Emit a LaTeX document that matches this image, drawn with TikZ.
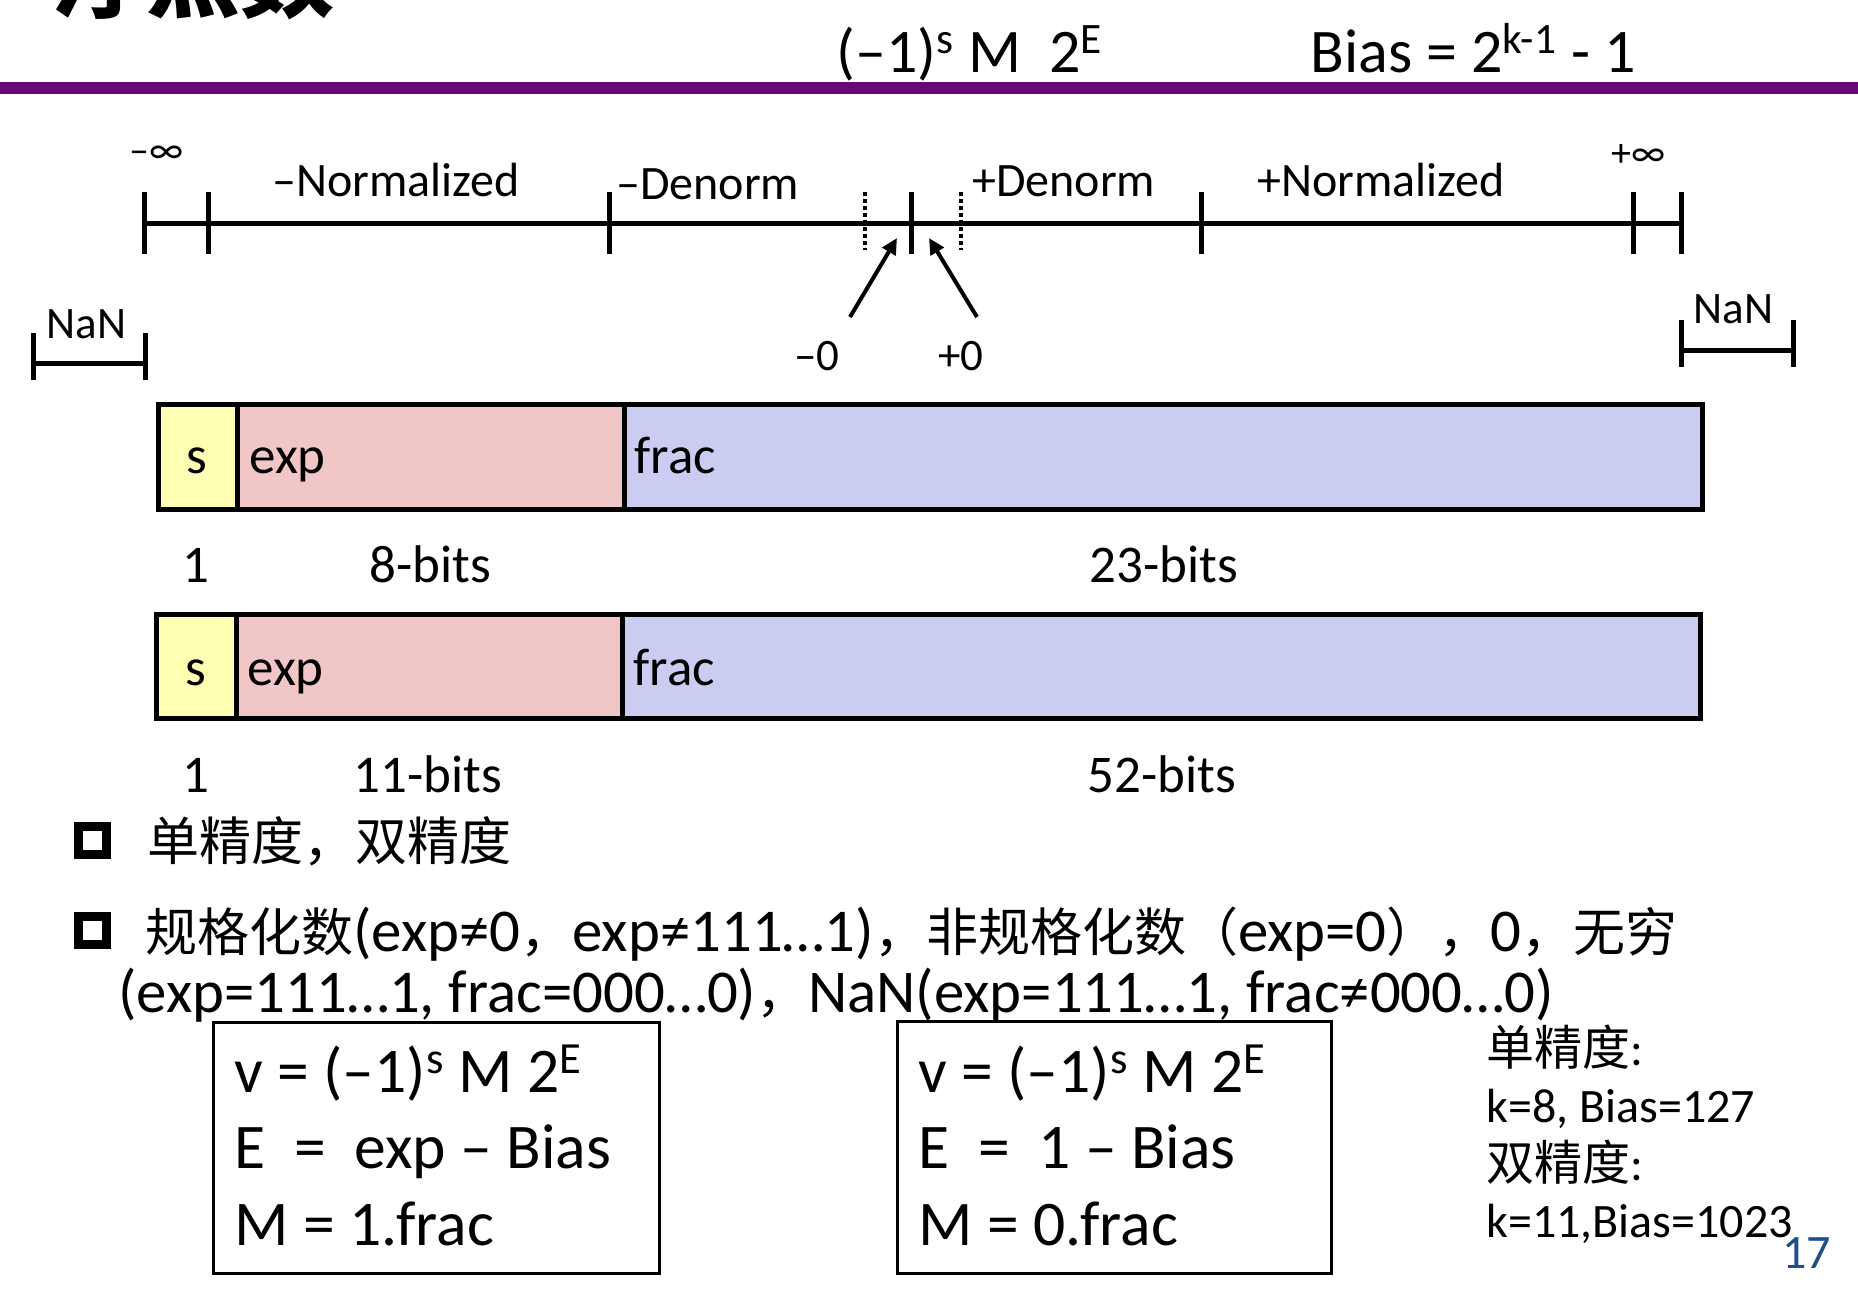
\documentclass[tikz,border=0pt]{standalone}
\usepackage{fontspec}
\setmainfont{Carlito}
\newfontfamily\cjk{Noto Sans CJK SC}
\usetikzlibrary{arrows.meta,positioning}
\usepackage{xcolor}

\definecolor{slide}{RGB}{102,8,116}
\definecolor{sgnfill}{RGB}{255,255,179}
\definecolor{expfill}{RGB}{240,198,198}
\definecolor{fracfill}{RGB}{202,204,242}
\definecolor{pagenum}{RGB}{31,78,140}
\newcommand{\fsz}[1]{\fontsize{#1}{#1}\selectfont}
\newcommand{\zh}[1]{{\cjk\fsz{26}#1}}

\begin{document}
\begin{tikzpicture}[x=0.5pt,y=-0.5pt,
    every node/.style={inner sep=0pt,anchor=base west},
    tick/.style={line width=2.5pt},
    dotick/.style={line width=2pt,dash pattern=on 2pt off 1.5pt},
    field/.style={draw,line width=2.5pt},
    fbox/.style={draw,line width=1.5pt},
    ptr/.style={line width=2pt,-{Triangle[length=8pt,width=7.5pt]}},
    headtxt/.style={font=\fsz{31}},
    rangelbl/.style={font=\fsz{24}},
    inflbl/.style={font=\fsz{20}},
    numlbl/.style={font=\fsz{22.5}},
    fieldtxt/.style={font=\fsz{26.5}},
    bitlbl/.style={font=\fsz{26.5},anchor=base},
    bodytxt/.style={font=\fsz{30.4}},
    formula/.style={font=\fsz{31.8}},
    note/.style={font=\fsz{24}}]
  \useasboundingbox (0,0) rectangle (1858,1303);

  % Kopf
  \node (title) at (52,10) {\cjk\bfseries\fsz{47}浮点数};
  \draw [slide, line width=6pt] (0,88) -- (1858,88);
  \node [headtxt] (vform) at (836,72) {(–1)\textsuperscript{s} M\ \ 2\textsuperscript{E}};
  \node [headtxt] (bias) at (1310,72) {Bias = 2\textsuperscript{k-1} - 1};

  % Zahlengerade
  \draw [tick] (144,223) -- (1681,223);
  \foreach \x in {144,208,609,911,1201,1633,1681}
    \draw [tick] (\x,192) -- (\x,254);
  \foreach \x in {865,961}
    \draw [dotick] (\x,192) -- (\x,250);
  \node [inflbl] (minf) at (129,163) {–∞};
  \node [rangelbl] (mnorm) at (272,196) {–Normalized};
  \node [rangelbl] (mden) at (616,199) {–Denorm};
  \node [rangelbl] (pden) at (972,196) {+Denorm};
  \node [rangelbl] (pnorm) at (1257,196) {+Normalized};
  \node [inflbl] (pinf) at (1611,166) {+∞};

  % NaN
  \draw [tick] (33,333) -- (33,380) (33,363) -- (145,363) (145,333) -- (145,380);
  \node [numlbl] (nanl) at (46,338) {NaN};
  \draw [tick] (1681,320) -- (1681,367) (1681,350) -- (1793,350) (1793,320) -- (1793,367);
  \node [numlbl] (nanr) at (1693,323) {NaN};

  % Null
  \node [numlbl] (mzero) at (794,370) {–0};
  \node [numlbl] (pzero) at (938,370) {+0};
  \coordinate (mzs) at (850,317);
  \coordinate (mzt) at (897,238);
  \coordinate (pzs) at (977,317);
  \coordinate (pzt) at (929,238);
  \draw [ptr] (mzs) -- (mzt);
  \draw [ptr] (pzs) -- (pzt);

  % 32 Bit
  \draw [field, fill=sgnfill] (158,404) rectangle (237,509);
  \draw [field, fill=expfill] (237,404) rectangle (624,509);
  \draw [field, fill=fracfill] (624,404) rectangle (1702,509);
  \node [fieldtxt, anchor=base] (s1) at (197,473) {s};
  \node [fieldtxt] (e1) at (249,473) {exp};
  \node [fieldtxt] (f1) at (634,473) {frac};
  \node [bitlbl] (n1) at (196,582) {1};
  \node [bitlbl] (b1) at (430,582) {8-bits};
  \node [bitlbl] (c1) at (1164,582) {23-bits};

  % 64 Bit
  \draw [field, fill=sgnfill] (156,614) rectangle (236,718);
  \draw [field, fill=expfill] (236,614) rectangle (622,718);
  \draw [field, fill=fracfill] (622,614) rectangle (1700,718);
  \node [fieldtxt, anchor=base] (s2) at (196,685) {s};
  \node [fieldtxt] (e2) at (247,685) {exp};
  \node [fieldtxt] (f2) at (633,685) {frac};
  \node [bitlbl] (n2) at (196,792) {1};
  \node [bitlbl] (b2) at (428,792) {11-bits};
  \node [bitlbl] (c2) at (1162,792) {52-bits};

  % Text
  \draw [line width=4.5pt] (78,826) rectangle (106,854);
  \draw [line width=4.5pt] (78,916.5) rectangle (106,944.5);
  \node [bodytxt] (l1) at (147,860) {\zh{单精度，双精度}};
  \node [bodytxt] (l2) at (145,951) {\zh{规格化数}(exp≠0\zh{，}exp≠111…1)\zh{，非规格化数（}exp=0\zh{），}0\zh{，无穷}};
  \node [bodytxt] (l3) at (118,1012) {(exp=111…1, frac=000…0)\zh{，}NaN(exp=111…1, frac≠000…0)};

  % Formeln
  \draw [fbox] (213,1022) rectangle (659,1273);
  \node [formula] (v1) at (234,1092) {v = (–1)\textsuperscript{s} M 2\textsuperscript{E}};
  \node [formula] (x1) at (234,1168) {E\ \ =\ \ exp – Bias};
  \node [formula] (m1) at (234,1245) {M = 1.frac};
  \draw [fbox] (897,1021) rectangle (1331,1273);
  \node [formula] (v2) at (918,1092) {v = (–1)\textsuperscript{s} M 2\textsuperscript{E}};
  \node [formula] (x2) at (918,1168) {E\ \ =\ \ 1 – Bias};
  \node [formula] (m2) at (918,1245) {M = 0.frac};

  % Parameter
  \node [note] (sp) at (1486,1065) {{\cjk 单精度}:};
  \node [note] (spk) at (1486,1122) {k=8, Bias=127};
  \node [note] (dp) at (1486,1180) {{\cjk 双精度}:};
  \node [note] (dpk) at (1486,1237) {k=11,Bias=1023};
  \node [note, text=pagenum] (pg) at (1782,1268) {17};
\end{tikzpicture}
\end{document}
